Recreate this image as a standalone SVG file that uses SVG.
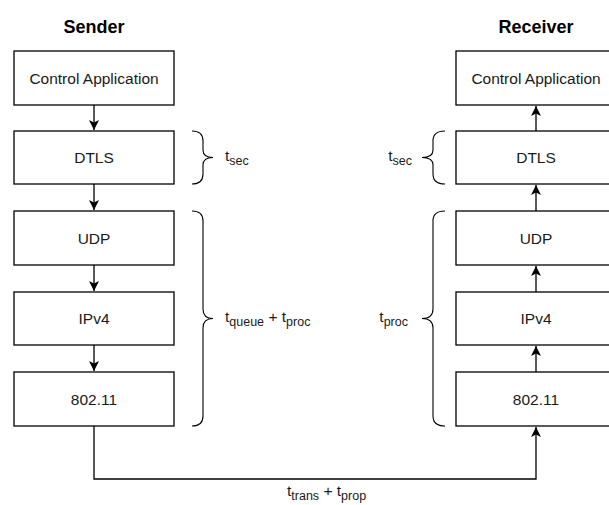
<svg xmlns="http://www.w3.org/2000/svg" width="609" height="505" viewBox="0 0 609 505">
<style>
.box{fill:#fff;stroke:#000;stroke-width:1.3}
.lbl{font-family:"Liberation Sans",Arial,sans-serif;font-size:15.5px;fill:#1a1a1a;text-anchor:middle;dominant-baseline:central}
.title{font-family:"Liberation Sans",Arial,sans-serif;font-size:18px;font-weight:bold;fill:#000;text-anchor:middle;dominant-baseline:central}
.t{font-family:"Liberation Sans",Arial,sans-serif;font-size:15.5px;fill:#1a1a1a}
.sub{font-size:12.5px}
.edge{fill:none;stroke:#000;stroke-width:1.3}
.brace{fill:none;stroke:#000;stroke-width:1.1}
</style>
<defs>
<marker id="arr" markerWidth="12" markerHeight="12" refX="10" refY="5" orient="auto" markerUnits="userSpaceOnUse">
<path d="M0,0 L10,5 L0,10 L2.5,5 Z" fill="#000"/>
</marker>
</defs>
<text class="title" x="94" y="27">Sender</text>
<text class="title" x="536" y="27">Receiver</text>
<g id="s-app"><rect class="box" x="14" y="51" width="160" height="54"/><text class="lbl" x="94" y="78">Control Application</text></g>
<g id="s-dtls"><rect class="box" x="14" y="131" width="160" height="53"/><text class="lbl" x="94" y="157.5">DTLS</text></g>
<g id="s-udp"><rect class="box" x="14" y="211" width="160" height="54"/><text class="lbl" x="94" y="238">UDP</text></g>
<g id="s-ip"><rect class="box" x="14" y="292" width="160" height="53"/><text class="lbl" x="94" y="318.5">IPv4</text></g>
<g id="s-mac"><rect class="box" x="14" y="372" width="160" height="54"/><text class="lbl" x="94" y="399">802.11</text></g>
<g id="r-app"><rect class="box" x="456" y="51" width="160" height="54"/><text class="lbl" x="536" y="78">Control Application</text></g>
<g id="r-dtls"><rect class="box" x="456" y="131" width="160" height="53"/><text class="lbl" x="536" y="157.5">DTLS</text></g>
<g id="r-udp"><rect class="box" x="456" y="211" width="160" height="54"/><text class="lbl" x="536" y="238">UDP</text></g>
<g id="r-ip"><rect class="box" x="456" y="292" width="160" height="53"/><text class="lbl" x="536" y="318.5">IPv4</text></g>
<g id="r-mac"><rect class="box" x="456" y="372" width="160" height="54"/><text class="lbl" x="536" y="399">802.11</text></g>
<g id="connectors">
<path class="edge" d="M94,105 L94,130" marker-end="url(#arr)"/>
<path class="edge" d="M94,184 L94,210" marker-end="url(#arr)"/>
<path class="edge" d="M94,265 L94,291" marker-end="url(#arr)"/>
<path class="edge" d="M94,345 L94,371" marker-end="url(#arr)"/>
<path class="edge" d="M536,372 L536,346" marker-end="url(#arr)"/>
<path class="edge" d="M536,292 L536,266" marker-end="url(#arr)"/>
<path class="edge" d="M536,211 L536,185" marker-end="url(#arr)"/>
<path class="edge" d="M536,131 L536,106" marker-end="url(#arr)"/>
<path class="edge" d="M94,426 L94,479 L536,479 L536,427" marker-end="url(#arr)"/>
</g>
<g id="braces">
<path class="brace" d="M192,131 Q203,131 203,141 L203,150 Q203,157.5 213,157.5 Q203,157.5 203,165 L203,174 Q203,184 192,184"/>
<path class="brace" d="M192,211 Q203,211 203,221 L203,309 Q203,318.5 213,318.5 Q203,318.5 203,328 L203,416 Q203,426 192,426"/>
<path class="brace" d="M445,131 Q433,131 433,141 L433,150 Q433,157.5 422,157.5 Q433,157.5 433,165 L433,174 Q433,184 445,184"/>
<path class="brace" d="M445,211 Q433,211 433,221 L433,309 Q433,318.5 422,318.5 Q433,318.5 433,328 L433,416 Q433,426 445,426"/>
</g>
<g id="labels">
<text class="t" x="225" y="161">t<tspan class="sub" dy="4">sec</tspan></text>
<text class="t" x="225" y="322">t<tspan class="sub" dy="4">queue</tspan><tspan dy="-4"> + t</tspan><tspan class="sub" dy="4">proc</tspan></text>
<text class="t" x="412" y="161" text-anchor="end">t<tspan class="sub" dy="4">sec</tspan></text>
<text class="t" x="408" y="322" text-anchor="end">t<tspan class="sub" dy="4">proc</tspan></text>
<text class="t" x="287" y="496">t<tspan class="sub" dy="4">trans</tspan><tspan dy="-4"> + t</tspan><tspan class="sub" dy="4">prop</tspan></text>
</g>
</svg>
